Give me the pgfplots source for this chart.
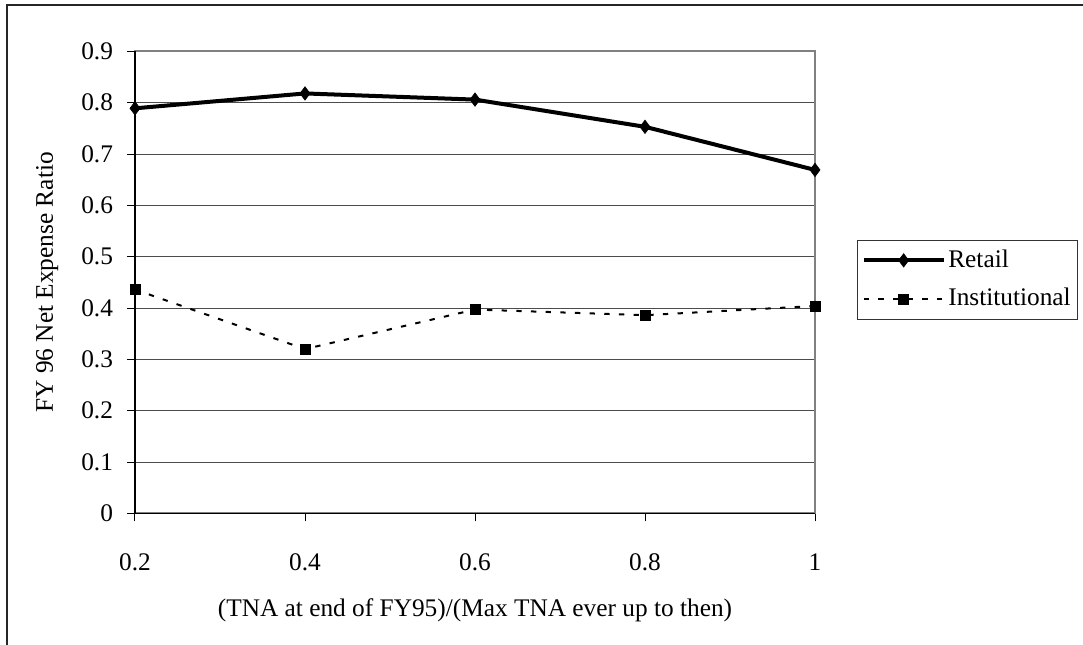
\documentclass[border=0pt]{standalone}
\usepackage{fontspec}
\setmainfont{Liberation Serif}
\usepackage{pgfplots}
\pgfplotsset{compat=1.18}
\begin{document}
\fontsize{19}{23}\selectfont
\begin{tikzpicture}
\useasboundingbox (0,0) rectangle (812.25pt,-483pt);
% outer frame (left and top visible)
\draw[line width=1.1pt, black!85] (5.25pt,-600pt) -- (5.25pt,-3.75pt) -- (900pt,-3.75pt);
\begin{axis}[
  at={(101.25pt,-385pt)}, anchor=south west,
  scale only axis, width=510pt, height=346.5pt,
  xmin=0.2, xmax=1, ymin=0, ymax=0.9,
  xtick={0.2,0.4,0.6,0.8,1},
  ytick={0,0.1,...,0.9},
  xticklabels={0.2,0.4,0.6,0.8,1},
  yticklabels={0,0.1,0.2,0.3,0.4,0.5,0.6,0.7,0.8,0.9},
  tick pos=left, tick align=outside, major tick length=6pt,
  tick style={black, line width=0.75pt},
  ymajorgrids, major grid style={black!70, line width=0.75pt},
  axis line style={draw=black!50, line width=1.5pt},
  yticklabel style={font=\fontsize{19}{23}\selectfont, anchor=east, xshift=-4pt},
  xticklabel style={font=\fontsize{19}{23}\selectfont, anchor=north, yshift=-18pt},
  xlabel={(TNA at end of FY95)/(Max TNA ever up to then)},
  ylabel={FY 96 Net Expense Ratio},
  xlabel style={font=\fontsize{19}{23}\selectfont, at={(axis description cs:0.5,-0.21)}, anchor=center},
  ylabel style={font=\fontsize{19}{23}\selectfont, at={(axis description cs:-0.129,0.5)}, anchor=center, rotate=0},
  clip=false,
  legend style={at={(axis description cs:1.062,0.592)}, anchor=north west,
    draw=black!80, line width=0.75pt, font=\fontsize{19}{23}\selectfont,
    inner xsep=3pt, inner ysep=5pt, row sep=9pt, cells={anchor=west}},
  legend image code/.code={\draw[mark repeat=2,mark phase=2,#1] plot coordinates {(0pt,0pt) (30pt,0pt) (60pt,0pt)};},
  after end axis/.code={
    \draw[black, line width=1.2pt] (rel axis cs:0,1) -- (rel axis cs:0,0) -- (rel axis cs:1,0);
  },
]
\addplot[black, line width=3pt, mark=diamond*, mark size=5pt, mark options={solid, line width=0.5pt}]
  coordinates {(0.2,0.789) (0.4,0.818) (0.6,0.806) (0.8,0.753) (1,0.669)};
\addlegendentry{Retail}
\addplot[black, line width=1.5pt, dash pattern=on 4pt off 7pt, mark=square*, mark size=3.8pt, mark options={solid, line width=0.5pt}]
  coordinates {(0.2,0.436) (0.4,0.320) (0.6,0.397) (0.8,0.386) (1,0.404)};
\addlegendentry{Institutional}
\end{axis}
\end{tikzpicture}
\end{document}
